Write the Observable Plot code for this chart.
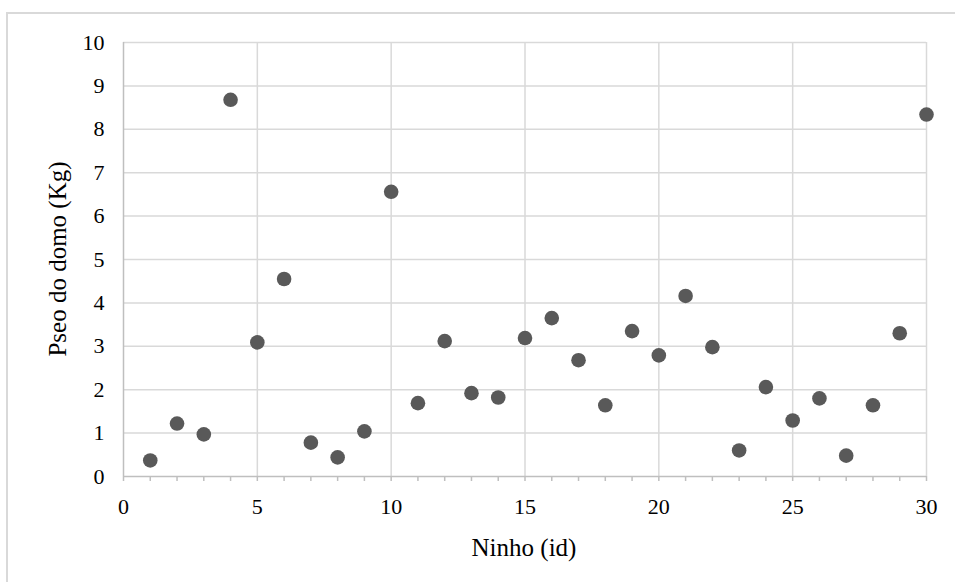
<!DOCTYPE html>
<html>
<head>
<meta charset="utf-8">
<script src="https://cdn.jsdelivr.net/npm/d3@7"></script>
<script src="https://cdn.jsdelivr.net/npm/@observablehq/plot@0.6"></script>
<style>
  html, body { margin: 0; padding: 0; background: #fff; }
  #chart svg { display: block; }
  #chart svg, #chart svg text { font-family: "Liberation Serif", "Times New Roman", "DejaVu Serif", serif !important; }
</style>
</head>
<body>
<div id="chart"></div>
<script>
// Nest id and dome weight (kg)
const ninho = d3.range(1, 31);
const peso = [
  0.37, 1.22, 0.97, 8.68, 3.09, 4.55, 0.78, 0.44, 1.04, 6.56,
  1.69, 3.12, 1.92, 1.82, 3.19, 3.65, 2.68, 1.64, 3.35, 2.79,
  4.16, 2.98, 0.60, 2.06, 1.29, 1.80, 0.48, 1.64, 3.30, 8.34
];
const xMajorTicks = [0, 5, 10, 15, 20, 25, 30];
const xMinorTicks = d3.range(0, 31);
const yTicks = d3.range(0, 11);

const data = ninho.map((id, i) => ({id, peso: peso[i]}));

const gridColor = "#d9d9d9";
const axisColor = "#bfbfbf";

const chart = Plot.plot({
  width: 955,
  height: 582,
  marginLeft: 123,
  marginRight: 29,
  marginTop: 42,
  marginBottom: 106,
  style: {background: "#fff", color: "#000"},
  x: {domain: [0, 30]},
  y: {domain: [0, 10]},
  marks: [
    Plot.gridY(yTicks.filter(d => d > 0), {stroke: gridColor, strokeOpacity: 1, strokeWidth: 1.5}),
    Plot.gridX(xMajorTicks.filter(d => d > 0), {stroke: gridColor, strokeOpacity: 1, strokeWidth: 1.5}),
    Plot.axisX(xMinorTicks, {tickSize: 5, text: null, label: null, stroke: axisColor, strokeWidth: 1.5}),
    Plot.axisX(xMajorTicks, {tickSize: 0, tickPadding: 22, fontSize: 22, label: null, fill: "#000"}),
    Plot.axisY(yTicks, {tickSize: 0, tickPadding: 19, fontSize: 22, label: null, fill: "#000"}),
    Plot.ruleY([0], {stroke: axisColor, strokeWidth: 1.5}),
    Plot.ruleX([0], {stroke: axisColor, strokeWidth: 1.5}),
    Plot.dot(data, {x: "id", y: "peso", r: 7.3, fill: "#595959", stroke: "none"})
  ]
});

// Chart border and axis titles
const svg = d3.select(chart);
svg.insert("rect", ":first-child")
  .attr("x", 7).attr("y", 13)
  .attr("width", 960).attr("height", 600)
  .attr("fill", "#fff")
  .attr("stroke", gridColor).attr("stroke-width", 2);
svg.append("text")
  .attr("x", 524).attr("y", 556)
  .attr("text-anchor", "middle")
  .attr("font-size", 25)
  .attr("fill", "#000")
  .text("Ninho (id)");
svg.append("text")
  .attr("transform", "translate(66,259) rotate(-90)")
  .attr("text-anchor", "middle")
  .attr("font-size", 25)
  .attr("fill", "#000")
  .text("Pseo do domo (Kg)");

document.getElementById("chart").appendChild(chart);
</script>
</body>
</html>
